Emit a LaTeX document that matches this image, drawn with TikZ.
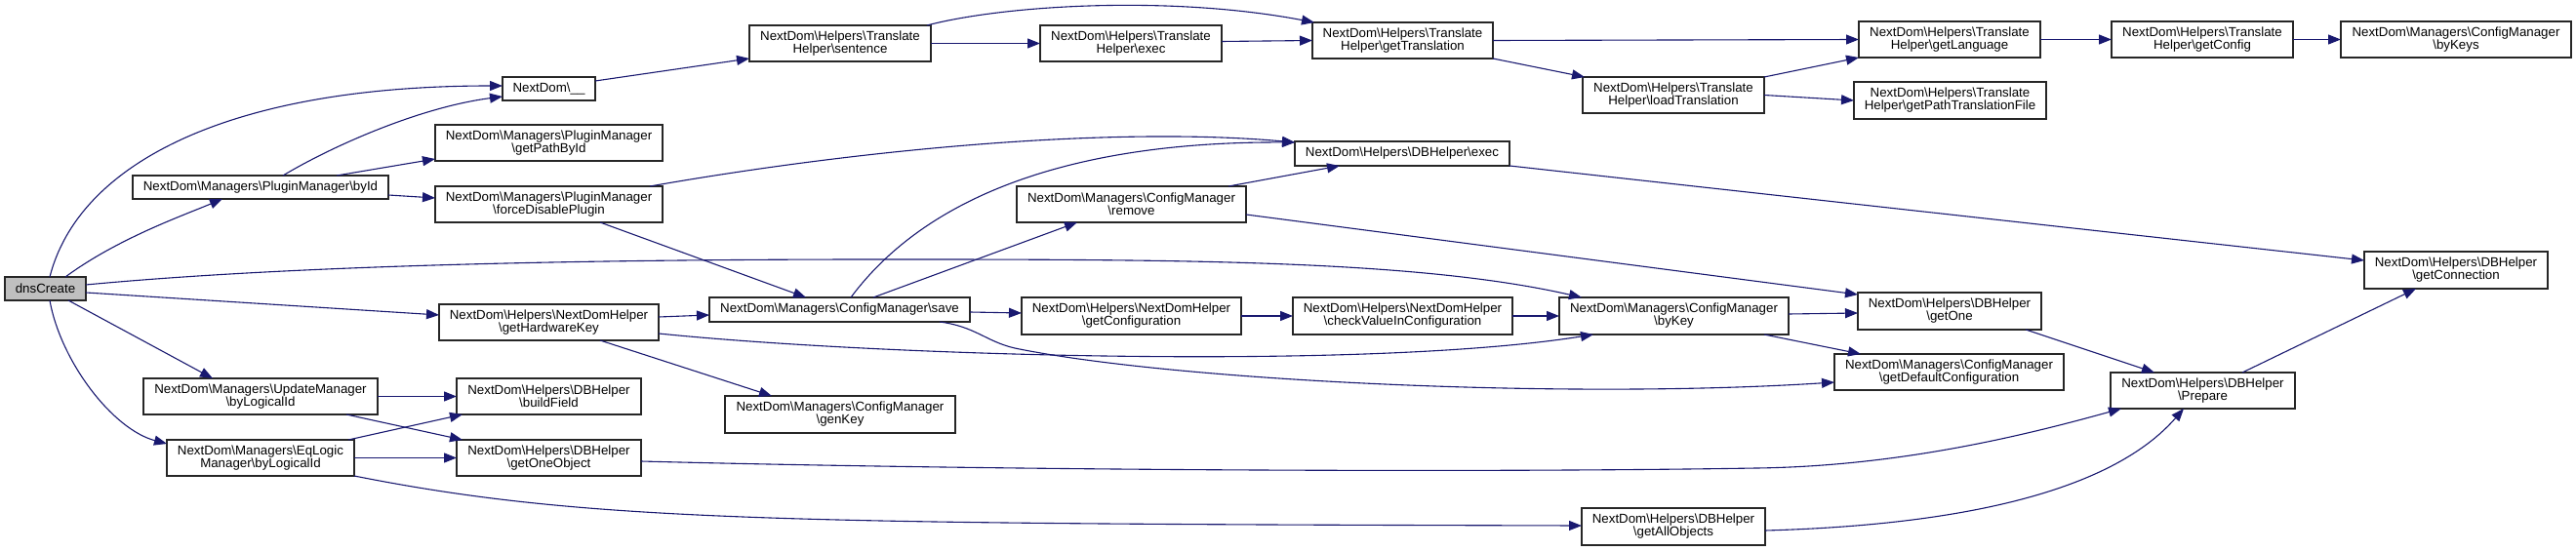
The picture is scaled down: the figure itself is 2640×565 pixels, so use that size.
\documentclass[tikz,border=0pt]{standalone}
\usepackage{fontspec}
\setmainfont{Liberation Sans}
\usetikzlibrary{arrows.meta}
\definecolor{edgeblue}{HTML}{191970}
\definecolor{nodegray}{HTML}{BFBFBF}
\newcommand{\bs}{\textbackslash}
\newcommand{\mkbox}[7][]{\node[box,#1,minimum width={(#5-#3)*1bp},minimum height={(#6-#4)*1bp}] (#2) at ({(#3+#5)/2},{(#4+#6)/2}) {#7};}
\begin{document}
\begin{tikzpicture}[x=1bp,y=-1bp,
  box/.style={draw=black!85,line width=1.1bp,fill=white,inner sep=0pt,outer sep=0pt,align=center,font=\fontsize{13.3bp}{13bp}\selectfont},
  e/.style={draw=edgeblue,line width=1.1bp,-{Triangle[length=13bp,width=10bp]}}]
\useasboundingbox[fill=white] (0,0) rectangle (2640,565);
% nodes
\mkbox[fill=nodegray]{dns}{5}{284}{88}{308}{dnsCreate}
\mkbox{byId}{136}{180}{398}{204}{NextDom\bs{}Managers\bs{}PluginManager\bs{}byId}
\mkbox{under}{515}{79}{610}{103}{NextDom\bs{}\_\_}
\mkbox{getPathById}{446}{128}{679}{165}{NextDom\bs{}Managers\bs{}PluginManager\\\bs{}getPathById}
\mkbox{force}{446}{191}{679}{228}{NextDom\bs{}Managers\bs{}PluginManager\\\bs{}forceDisablePlugin}
\mkbox{hwkey}{450}{312}{675}{349}{NextDom\bs{}Helpers\bs{}NextDomHelper\\\bs{}getHardwareKey}
\mkbox{upd}{147}{388}{387}{425}{NextDom\bs{}Managers\bs{}UpdateManager\\\bs{}byLogicalId}
\mkbox{build}{468}{388}{657}{425}{NextDom\bs{}Helpers\bs{}DBHelper\\\bs{}buildField}
\mkbox{eql}{171}{451}{363}{488}{NextDom\bs{}Managers\bs{}EqLogic\\Manager\bs{}byLogicalId}
\mkbox{getoneobj}{468}{451}{657}{488}{NextDom\bs{}Helpers\bs{}DBHelper\\\bs{}getOneObject}
\mkbox{sentence}{768}{26}{954}{63}{NextDom\bs{}Helpers\bs{}Translate\\Helper\bs{}sentence}
\mkbox{thexec}{1066}{26}{1252}{63}{NextDom\bs{}Helpers\bs{}Translate\\Helper\bs{}exec}
\mkbox{remove}{1042}{191}{1277}{228}{NextDom\bs{}Managers\bs{}ConfigManager\\\bs{}remove}
\mkbox{save}{727}{305}{994}{330}{NextDom\bs{}Managers\bs{}ConfigManager\bs{}save}
\mkbox{getconf}{1047}{305}{1272}{343}{NextDom\bs{}Helpers\bs{}NextDomHelper\\\bs{}getConfiguration}
\mkbox{genkey}{743}{406}{979}{444}{NextDom\bs{}Managers\bs{}ConfigManager\\\bs{}genKey}
\mkbox{gettrans}{1345}{23}{1530}{60}{NextDom\bs{}Helpers\bs{}Translate\\Helper\bs{}getTranslation}
\mkbox{loadtrans}{1622}{79}{1808}{116}{NextDom\bs{}Helpers\bs{}Translate\\Helper\bs{}loadTranslation}
\mkbox{dbexec}{1327}{145}{1547}{170}{NextDom\bs{}Helpers\bs{}DBHelper\bs{}exec}
\mkbox{getlang}{1905}{22}{2091}{59}{NextDom\bs{}Helpers\bs{}Translate\\Helper\bs{}getLanguage}
\mkbox{getpath}{1900}{84}{2097}{122}{NextDom\bs{}Helpers\bs{}Translate\\Helper\bs{}getPathTranslationFile}
\mkbox{check}{1325}{305}{1550}{343}{NextDom\bs{}Helpers\bs{}NextDomHelper\\\bs{}checkValueInConfiguration}
\mkbox{bykey}{1598}{305}{1833}{343}{NextDom\bs{}Managers\bs{}ConfigManager\\\bs{}byKey}
\mkbox{getone}{1904}{300}{2092}{338}{NextDom\bs{}Helpers\bs{}DBHelper\\\bs{}getOne}
\mkbox{getdef}{1880}{363}{2115}{400}{NextDom\bs{}Managers\bs{}ConfigManager\\\bs{}getDefaultConfiguration}
\mkbox{getall}{1621}{521}{1809}{559}{NextDom\bs{}Helpers\bs{}DBHelper\\\bs{}getAllObjects}
\mkbox{getconfig}{2164}{22}{2350}{59}{NextDom\bs{}Helpers\bs{}Translate\\Helper\bs{}getConfig}
\mkbox{bykeys}{2399}{22}{2635}{59}{NextDom\bs{}Managers\bs{}ConfigManager\\\bs{}byKeys}
\mkbox{getconn}{2423}{258}{2611}{296}{NextDom\bs{}Helpers\bs{}DBHelper\\\bs{}getConnection}
\mkbox{prepare}{2163}{382}{2352}{419}{NextDom\bs{}Helpers\bs{}DBHelper\\\bs{}Prepare}
% edges from dnsCreate
\draw[e] ([xshift=46bp]dns.north west) .. controls (80,170) and (230,88) .. ([yshift=3bp]under.west);
\draw[e] ([xshift=62bp]dns.north west) .. controls (120,245) and (185,222) .. ([xshift=92bp]byId.south west);
\draw[e] ([yshift=-8bp]dns.north east) .. controls (300,272) and (600,266) .. (900,266) .. controls (1200,266) and (1450,266) .. ([xshift=23bp]bykey.north west);
\draw[e] ([yshift=-16bp]dns.north east) -- ([yshift=-11bp]hwkey.north west);
\draw[e] ([xshift=65bp]dns.south west) -- ([xshift=71bp]upd.north west);
\draw[e] ([xshift=46bp]dns.south west) .. controls (62,370) and (115,440) .. ([yshift=-4bp]eql.north west);
% PluginManager byId
\draw[e] ([xshift=154bp]byId.north west) .. controls (340,150) and (430,110) .. ([yshift=-8bp]under.west);
\draw[e] ([xshift=209bp]byId.north west) -- ([yshift=2bp]getPathById.south west);
\draw[e] ([yshift=4bp]byId.south east) -- ([yshift=-12bp]force.north west);
% translation chain
\draw[e] ([yshift=-4bp]under.north east) -- ([yshift=3bp]sentence.south west);
\draw[e] (sentence.east) -- (thexec.west);
\draw[e] ([xshift=-4bp]sentence.north east) .. controls (1030,5) and (1200,-5) .. ([xshift=2bp]gettrans.north west);
\draw[e] ([yshift=2bp]thexec.east) -- (gettrans.west);
\draw[e] (gettrans.east) -- (getlang.west);
\draw[e] (gettrans.south east) -- ([xshift=2bp]loadtrans.north west);
\draw[e] (loadtrans.north east) -- (getlang.south west);
\draw[e] (loadtrans.east) -- (getpath.west);
\draw[e] (getlang.east) -- (getconfig.west);
\draw[e] (getconfig.east) -- (bykeys.west);
% forceDisablePlugin / save / remove
\draw[e] ([xshift=220bp]force.north west) .. controls (900,150) and (1150,130) .. ([yshift=-1bp]dbexec.north west);
\draw[e] ([xshift=169bp]force.south west) -- ([xshift=99bp]save.north west);
\draw[e] ([xshift=145bp]save.north west) .. controls (950,200) and (1100,145) .. ([yshift=-1bp]dbexec.north west);
\draw[e] ([xshift=217bp]remove.north west) -- ([xshift=46bp]dbexec.south west);
\draw[e] ([xshift=168bp]save.north west) -- ([xshift=62bp]remove.south west);
\draw[e] ([yshift=-15bp]save.north east) -- ([yshift=-16bp]getconf.north west);
\draw[e] ([xshift=236bp]save.south west) .. controls (1000,335) and (1010,350) .. (1040,357) .. controls (1200,390) and (1600,410) .. ([yshift=-29bp]getdef.north west);
% getHardwareKey
\draw[e] ([yshift=-13bp]hwkey.north east) -- ([yshift=-18bp]save.north west);
\draw[e] ([yshift=-30bp]hwkey.north east) .. controls (900,365) and (1400,380) .. ([xshift=35bp]bykey.south west);
\draw[e] ([xshift=165bp]hwkey.south west) -- ([xshift=48bp]genkey.north west);
% byLogicalId
\draw[e] (upd.east) -- (build.west);
\draw[e] ([xshift=208bp]upd.south west) -- ([xshift=6bp]getoneobj.north west);
\draw[e] ([xshift=186bp]eql.north west) -- ([xshift=6bp]build.south west);
\draw[e] (eql.east) -- (getoneobj.west);
\draw[e] (eql.south east) .. controls (600,535) and (800,537) .. ([yshift=-18bp]getall.north west);
% DB helpers
\draw[e] ([yshift=-22bp]getoneobj.north east) .. controls (1000,482) and (1500,485) .. (1800,480) .. controls (1950,478) and (2080,445) .. ([xshift=11bp]prepare.south west);
\draw[e] ([yshift=-23bp]getall.north east) .. controls (1950,540) and (2150,520) .. ([xshift=75bp]prepare.south west);
\draw[e] ([yshift=-29bp]remove.north east) -- ([yshift=-2bp]getone.north west);
\draw[e] (getconf.east) -- (check.west);
\draw[e] (check.east) -- (bykey.west);
\draw[e] ([yshift=-17bp]bykey.north east) -- ([yshift=-21bp]getone.north west);
\draw[e] ([xshift=-25bp]bykey.south east) -- ([xshift=27bp]getdef.north west);
\draw[e] ([xshift=172bp]getone.south west) -- ([xshift=45bp]prepare.north west);
\draw[e] ([xshift=135bp]prepare.north west) -- ([xshift=53bp]getconn.south west);
\draw[e] (dbexec.south east) -- ([yshift=-9bp]getconn.north west);
\end{tikzpicture}
\end{document}
